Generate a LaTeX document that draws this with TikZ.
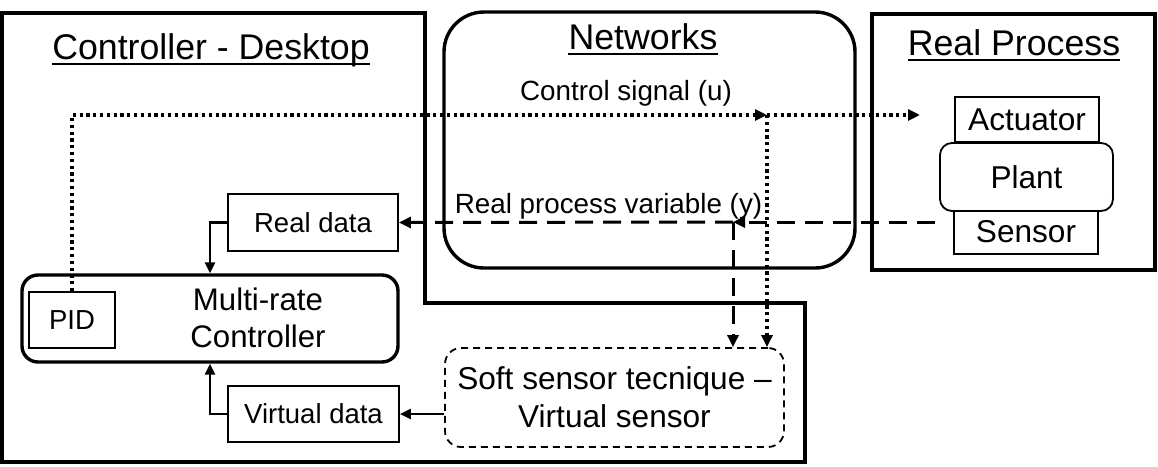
\documentclass[tikz,border=0pt]{standalone}
\usepackage{fontspec}
\setmainfont{Liberation Sans}
\usetikzlibrary{arrows.meta}
\begin{document}
\begin{tikzpicture}[x=1pt,y=-1pt,
  heavy/.style={draw, line width=3.4pt, inner sep=0pt},
  thinbox/.style={draw, line width=1.8pt, inner sep=0pt},
  dotline/.style={line width=3.6pt, dash pattern=on 3.2pt off 3.6pt},
  dashline/.style={line width=3pt, dash pattern=on 18pt off 10pt},
  arr/.style={-{Triangle[length=12pt,width=11pt]}},
  solidarr/.style={line width=2.8pt, -{Triangle[length=11pt,width=10pt]}},
  titlefont/.style={font=\fontsize{35.7}{40}\selectfont, inner sep=0pt},
  labelfont/.style={font=\fontsize{27.8}{32}\selectfont, inner sep=0pt},
  smallfont/.style={font=\fontsize{27.5}{32}\selectfont},
  midfont/.style={font=\fontsize{31.6}{38}\selectfont},
  uline/.style={line width=2.2pt}
]
\useasboundingbox (0,0) rectangle (1158,466);

% Controller - Desktop outline
\draw[line width=3.4pt] (2,13) -- (425,13) -- (425,303) -- (805,303) -- (805,462) -- (2,462) -- cycle;

% Networks and Real Process boxes
\node[heavy, rounded corners=40pt, minimum width=411pt, minimum height=256pt] (net) at (649.5,140) {};
\node[heavy, minimum width=283pt, minimum height=256pt] (proc) at (1013.5,142) {};

% Titles
\node[titlefont, anchor=base] (t1) at (211,59) {Controller - Desktop};
\draw[uline] ([yshift=-5pt]t1.base west) -- ([yshift=-5pt]t1.base east);
\node[titlefont, anchor=base] (t2) at (643,49) {Networks};
\draw[uline] ([yshift=-5pt]t2.base west) -- ([yshift=-5pt]t2.base east);
\node[titlefont, anchor=base] (t3) at (1014,55) {Real Process};
\draw[uline] ([yshift=-5pt]t3.base west) -- ([yshift=-5pt]t3.base east);

% Labels in Networks
\node[labelfont, anchor=base] (lu) at (626,100) {Control signal (u)};
\node[labelfont, anchor=base] (ly) at (608.5,213) {Real process variable (y)};

% Real process parts
\node[thinbox, midfont, minimum width=144pt, minimum height=45pt] (act) at (1027,119.5) {Actuator};
\node[thinbox, midfont, minimum width=144pt, minimum height=45pt] (sens) at (1026,231.5) {Sensor};
\node[thinbox, midfont, fill=white, rounded corners=12pt, minimum width=173pt, minimum height=68pt] (plant) at (1026.5,177) {Plant};

% Controller parts
\node[thinbox, smallfont, minimum width=170pt, minimum height=57pt] (realdata) at (313,222.5) {Real data};
\node[thinbox, smallfont, minimum width=171pt, minimum height=56pt] (virt) at (313.5,414) {Virtual data};
\node[heavy, rounded corners=16pt, minimum width=376pt, minimum height=87pt] (mrc) at (210,318.5) {};
\node[font=\fontsize{31.2}{37}\selectfont, align=center, inner sep=0pt] (mrctext) at (258,318) {Multi-rate\\Controller};
\node[thinbox, smallfont, minimum width=86pt, minimum height=56pt] (pid) at (72,320) {PID};

% Soft sensor
\node[draw, line width=1.8pt, dash pattern=on 7pt off 5pt, rounded corners=16pt,
      minimum width=339pt, minimum height=99pt, inner sep=0pt, align=center,
      font=\fontsize{31.6}{38}\selectfont] (soft) at (614.5,397.5) {Soft sensor tecnique --\\Virtual sensor};

% Junctions and free ends
\coordinate (ju) at (767,115);
\coordinate (uend) at (920,115);
\coordinate (jy) at (733,222);
\coordinate (ystart) at (935,222);

% Control signal (dotted)
\draw[dotline, arr] (pid.north) |- (ju);
\draw[dotline, arr] (ju) -- (uend);
\draw[dotline, arr] (ju) -- (ju |- soft.north);

% Real process variable (dashed)
\draw[dashline, arr] (ystart) -- (jy);
\draw[dashline, arr] (jy) -- (realdata.east);
\draw[dashline, arr] (jy) -- (jy |- soft.north);

% Solid data arrows
\draw[solidarr] (realdata.west) -| (mrc.north);
\draw[solidarr] (virt.west) -| (mrc.south);
\draw[solidarr] (soft.west |- virt.east) -- (virt.east);
\end{tikzpicture}
\end{document}
